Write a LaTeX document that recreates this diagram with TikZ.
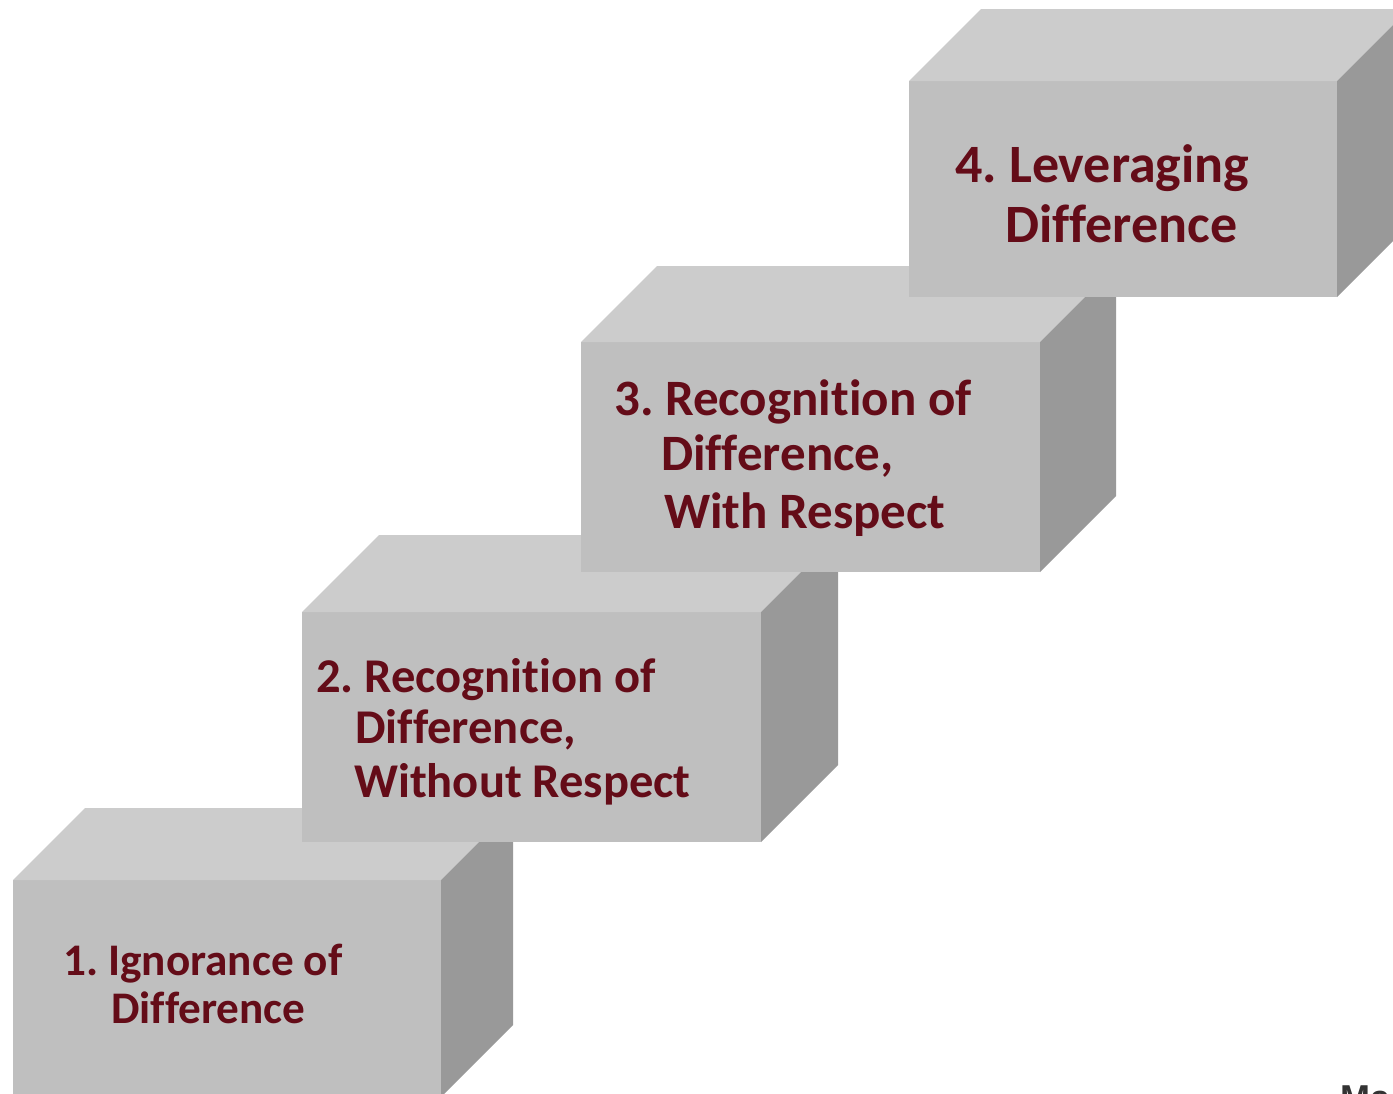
\documentclass[tikz,border=0pt]{standalone}
\usepackage{fontspec}
\setmainfont{Carlito}[Ligatures={NoCommon}]
\newfontfamily\fragfont{Liberation Sans}
\definecolor{frontgray}{HTML}{BFBFBF}
\definecolor{topgray}{HTML}{CCCCCC}
\definecolor{sidegray}{HTML}{999999}
\definecolor{txtred}{RGB}{100,12,24}
\newcommand\stepblock[5]{%
  \fill[frontgray] (#1,#2) rectangle (#3,#4);
  \fill[topgray] (#1,#2) -- ({#1+#5},{#2-#5}) -- ({#3+#5},{#2-#5}) -- (#3,#2) -- cycle;
  \fill[sidegray] (#3,#2) -- ({#3+#5},{#2-#5}) -- ({#3+#5},{#4-#5}) -- (#3,#4) -- cycle;}
\frenchspacing
\begin{document}
\begin{tikzpicture}[x=1pt,y=-1pt,
  lbl/.style={anchor=base west, inner sep=0pt, text=txtred},
  fa/.style={lbl, font=\fontsize{45.2}{50}\selectfont\bfseries},
  fb/.style={lbl, font=\fontsize{48.5}{53}\selectfont\bfseries},
  fc/.style={lbl, font=\fontsize{51}{56}\selectfont\bfseries},
  fd/.style={lbl, font=\fontsize{54}{60}\selectfont\bfseries}]
\useasboundingbox (0,0) rectangle (1393,1093);
\fill[white] (0,0) rectangle (1393,1093);
% blocks, lowest first
\stepblock{13}{880}{441}{1097}{72}
\stepblock{302}{612}{761}{842}{77}
\stepblock{581}{342}{1040}{572}{76}
\stepblock{909}{81}{1337}{297}{72}
% labels
\node[fa] (b1a) at (63,975) {1. Ignorance of};
\node[fa] (b1b) at (111,1023) {Difference};
\node[fb] (b2a) at (316,692) {2. Recognition of};
\node[fb] (b2b) at (355,743) {Difference,};
\node[fb] (b2c) at (354,797) {Without Respect};
\node[fc] (b3a) at (614,415) {3. Recognition of};
\node[fc] (b3b) at (661,470) {Difference,};
\node[fc] (b3c) at (664,528) {With Respect};
\node[fd] (b4a) at (955,182) {4. Leveraging};
\node[fd] (b4b) at (1005,242) {Difference};
% cut-off fragment at bottom right
\node[anchor=north west, inner sep=0pt, text=black!80, font=\fragfont\bfseries\fontsize{36}{40}\selectfont] (frag) at (1340,1086) {Ma};
\end{tikzpicture}
\end{document}
